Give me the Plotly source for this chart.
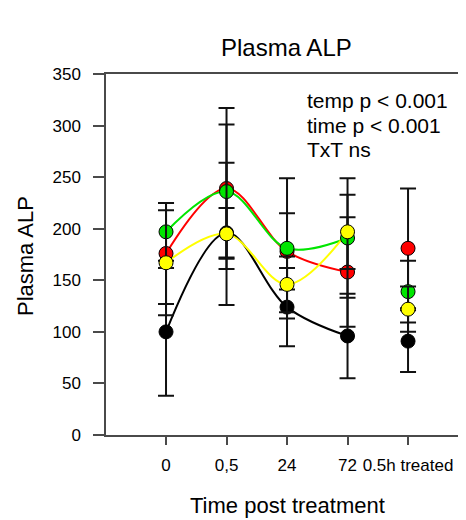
import plotly.graph_objects as go

categories = ["0", "0,5", "24", "72", "0.5h treated"]

black_vals = [100, 196, 124, 96, 91]
black_err = [62, 24, 38, 41, 30]
red_vals = [176, 239, 178, 158, 181]
red_err = [49, 78, 37, 53, 58]
green_vals = [197, 236, 181, 191, 139]
green_err = [28, 65, 68, 58, 30]
yellow_vals = [167, 195, 146, 197, 122]
yellow_err = [51, 69, 27, 36, 22]

y_ticks = [0, 50, 100, 150, 200, 250, 300, 350]

series = [
    ("black", "#000000", black_vals, black_err),
    ("red", "#FF0000", red_vals, red_err),
    ("green", "#00E600", green_vals, green_err),
    ("yellow", "#FFFF00", yellow_vals, yellow_err),
]

FONT = "Liberation Sans, Arial, sans-serif"
AXC = "#4a4a4a"
OFF = 8  # page body margin
W, H = 466 - OFF, 520 - OFF
L, R, T, B = 106 - OFF, 0, 74 - OFF, (520 - OFF) - (435 - OFF)
PW, PH = W - L - R, H - T - B


def px_x(x):
    return (x - OFF - L) / PW


def px_y(y):
    return 1 - (y - OFF - T) / PH


fig = go.Figure()

# smooth connecting curves (time course only)
for name, col, vals, err in series:
    fig.add_trace(go.Scatter(
        x=categories[:4], y=vals[:4], mode="lines",
        line=dict(color=col, width=2, shape="spline", smoothing=1.0),
        hoverinfo="skip", showlegend=False,
    ))

# markers with error bars
for name, col, vals, err in series:
    fig.add_trace(go.Scatter(
        x=categories, y=vals, mode="markers", name=name,
        marker=dict(color=col, size=14, line=dict(color="#000000", width=1)),
        error_y=dict(type="data", array=err, visible=True,
                     color="#111111", thickness=2, width=8),
        showlegend=False,
    ))

fig.update_layout(
    width=W, height=H,
    margin=dict(l=L, r=R, t=T, b=B, autoexpand=False),
    paper_bgcolor="white", plot_bgcolor="white",
    font=dict(family=FONT, size=17, color="#000000"),
    showlegend=False,
)

fig.update_xaxes(
    type="category", categoryorder="array", categoryarray=categories,
    range=[-0.992, 4.958], automargin=False,
    showline=True, linecolor=AXC, linewidth=1.5, mirror=True,
    ticks="outside", ticklen=8, tickcolor=AXC, tickwidth=1.5,
    ticklabelstandoff=6,
    showgrid=False, zeroline=False,
    tickfont=dict(size=17, family=FONT),
)

fig.update_yaxes(
    range=[0, 350], tickvals=y_ticks, ticktext=[str(v) for v in y_ticks],
    automargin=False,
    showline=True, linecolor=AXC, linewidth=1.5,
    ticks="outside", ticklen=11, tickcolor=AXC, tickwidth=1.5,
    ticklabelstandoff=9,
    showgrid=False, zeroline=False,
    tickfont=dict(size=17, family=FONT),
)

# titles as positioned texts
fig.add_annotation(text="Plasma ALP", xref="paper", yref="paper",
                   x=px_x(286), y=px_y(47), xanchor="center", yanchor="middle",
                   showarrow=False, font=dict(size=24, family=FONT))
fig.add_annotation(text="Time post treatment", xref="paper", yref="paper",
                   x=px_x(287), y=px_y(505), xanchor="center", yanchor="middle",
                   showarrow=False, font=dict(size=22, family=FONT))
fig.add_annotation(text="Plasma ALP", xref="paper", yref="paper",
                   x=px_x(26), y=px_y(256), xanchor="center", yanchor="middle",
                   textangle=-90,
                   showarrow=False, font=dict(size=22, family=FONT))

for i, txt in enumerate(["temp p < 0.001", "time p < 0.001", "TxT ns"]):
    fig.add_annotation(
        text=txt, xref="paper", yref="paper",
        x=px_x(305), xanchor="left",
        y=px_y(101 + 24 * i), yanchor="middle",
        showarrow=False, font=dict(size=21, family=FONT, color="#000000"),
    )

fig.write_html("out.html")
